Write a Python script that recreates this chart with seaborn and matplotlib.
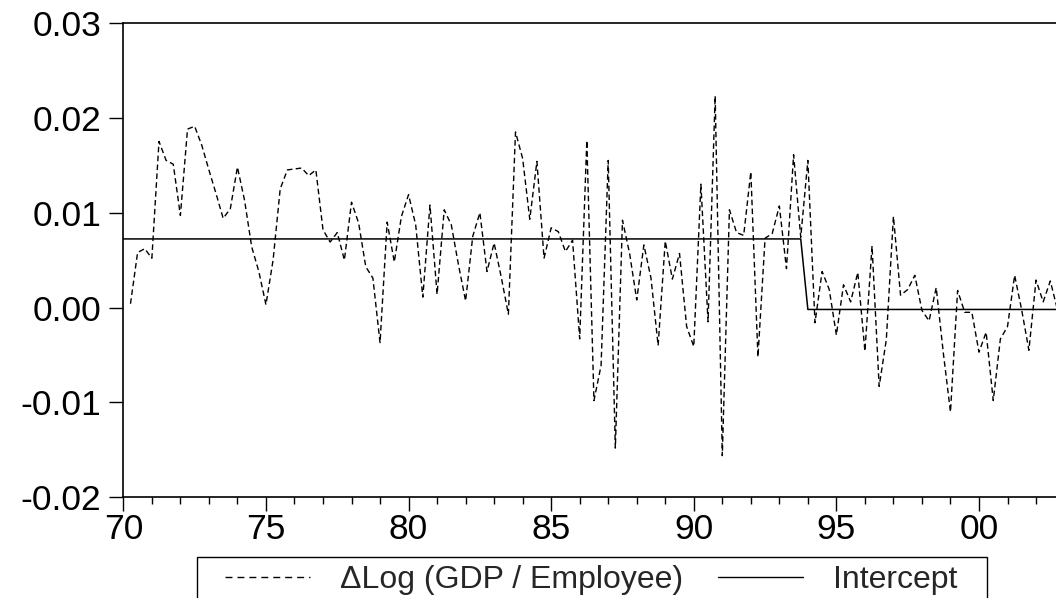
import numpy as np
import pandas as pd
import matplotlib
matplotlib.use("Agg")
import matplotlib.pyplot as plt
import matplotlib.ticker as ticker
from matplotlib.lines import Line2D
from matplotlib.patches import Rectangle
import seaborn as sns

# quarterly growth of GDP per employee, 1970Q2 .. 2002Q4
start_quarter = "1970Q2"
gdp_growth = [
    0.0004, 0.0058, 0.0062,
    0.0052, 0.0175, 0.0155, 0.0151,
    0.0097, 0.0188, 0.0191, 0.0171,
    0.0145, 0.0120, 0.0094, 0.0104,
    0.0148, 0.0113, 0.0064, 0.0038,
    0.0003, 0.0050, 0.0125, 0.0145,
    0.0146, 0.0147, 0.0139, 0.0145,
    0.0082, 0.0069, 0.0079, 0.0050,
    0.0111, 0.0089, 0.0043, 0.0031,
    -0.0037, 0.0090, 0.0048, 0.0096,
    0.0119, 0.0087, 0.0011, 0.0108,
    0.0014, 0.0103, 0.0087, 0.0045,
    0.0007, 0.0075, 0.0100, 0.0038,
    0.0068, 0.0032, -0.0007, 0.0185,
    0.0157, 0.0093, 0.0154, 0.0052,
    0.0084, 0.0080, 0.0059, 0.0071,
    -0.0033, 0.0176, -0.0098, -0.0061,
    0.0155, -0.0148, 0.0092, 0.0057,
    0.0008, 0.0066, 0.0031, -0.0040,
    0.0070, 0.0030, 0.0057, -0.0020,
    -0.0041, 0.0130, -0.0015, 0.0223,
    -0.0156, 0.0103, 0.0079, 0.0076,
    0.0143, -0.0052, 0.0073, 0.0078,
    0.0107, 0.0041, 0.0161, 0.0074,
    0.0155, -0.0016, 0.0038, 0.0019,
    -0.0029, 0.0024, 0.0006, 0.0037,
    -0.0046, 0.0065, -0.0083, -0.0034,
    0.0096, 0.0013, 0.0019, 0.0034,
    -0.0003, -0.0014, 0.0021, -0.0048,
    -0.0110, 0.0018, -0.0005, -0.0005,
    -0.0047, -0.0026, -0.0098, -0.0033,
    -0.0020, 0.0034, -0.0003, -0.0045,
    0.0029, 0.0006, 0.0028, -0.0002,
]
end_quarter = "2002Q4"
# intercept before / after the break (sample starts 1970Q1)
intercept_start = "1970Q1"
intercept_levels = [0.00723, -0.0002]
break_quarter = "1994Q1"

yticks = [-0.02, -0.01, 0.00, 0.01, 0.02, 0.03]
ytick_labels = ["-0.02", "-0.01", "0.00", "0.01", "0.02", "0.03"]
xticks = [1970, 1975, 1980, 1985, 1990, 1995, 2000]
legend_labels = ["\u0394Log (GDP / Employee)", "Intercept"]


def qpos(p):
    return p.dt.year + (p.dt.quarter - 1) / 4


df = pd.DataFrame({"q": pd.period_range(start_quarter, periods=len(gdp_growth), freq="Q"),
                   "growth": gdp_growth})
df["t"] = qpos(df["q"])

di = pd.DataFrame({"q": pd.period_range(intercept_start, end_quarter, freq="Q")})
di["t"] = qpos(di["q"])
di["intercept"] = np.where(di["q"] < pd.Period(break_quarter, freq="Q"),
                           intercept_levels[0], intercept_levels[1])

sns.set_theme(style="white")
plt.rcParams["font.family"] = ["Liberation Sans", "DejaVu Sans"]
plt.rcParams["axes.unicode_minus"] = False

fig = plt.figure(figsize=(10.56, 5.98), dpi=100)
ax = fig.add_axes([0.1168, 0.1682, 0.8832, 0.7937])

sns.lineplot(data=df, x="t", y="growth", ax=ax, color="black", lw=1.0,
             linestyle=(0, (4, 2.4)), legend=False)
sns.lineplot(data=di, x="t", y="intercept", ax=ax, color="black", lw=1.1,
             legend=False)

ax.set_xlim(1970, 2002.70)
ax.set_ylim(-0.02, 0.03)
ax.set_xlabel("")
ax.set_ylabel("")

ax.set_yticks(yticks)
ax.set_yticklabels(ytick_labels)
ax.set_xticks(xticks)
ax.xaxis.set_major_formatter(ticker.FuncFormatter(lambda v, p: "%02d" % (int(round(v)) % 100)))
ax.xaxis.set_minor_locator(ticker.MultipleLocator(1))

# seaborn's white style hides ticks, switch them back on
ax.tick_params(axis="both", which="major", direction="out", length=10, width=1,
               color="black", labelsize=25.5, labelcolor="black",
               left=True, bottom=True)
ax.tick_params(axis="x", which="minor", direction="out", length=5, width=1,
               color="black", bottom=True)
ax.tick_params(axis="y", pad=6)
ax.tick_params(axis="x", pad=1)

for side in ["left", "top", "bottom"]:
    ax.spines[side].set_color("black")
    ax.spines[side].set_linewidth(1.2)
ax.spines["right"].set_visible(False)

# legend box below the plot, cut off by the bottom edge like the original
fig.patches.append(Rectangle((197 / 1056, -0.05), (987 - 197) / 1056, 0.05 + 1 - 557 / 598,
                             transform=fig.transFigure, fill=False,
                             edgecolor="black", lw=1.0))
handles = [Line2D([], [], color="black", lw=1.0, linestyle=(0, (5, 3.6))),
           Line2D([], [], color="black", lw=1.0)]
leg = fig.legend(handles, legend_labels, loc="upper left",
                 bbox_to_anchor=(225 / 1056, 1 - 565 / 598), ncol=2, fontsize=23,
                 frameon=False, handlelength=2.65, handletextpad=0.95,
                 columnspacing=1.1, borderpad=0, borderaxespad=0)

fig.savefig("out.png", dpi=100)
